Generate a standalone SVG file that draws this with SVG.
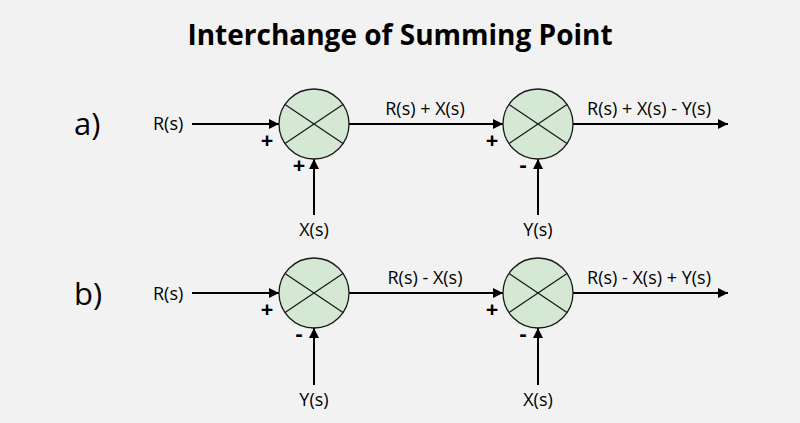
<svg xmlns="http://www.w3.org/2000/svg" width="800" height="423" viewBox="0 0 800 423">
<defs>
<marker id="arr" markerWidth="10" markerHeight="10" refX="10" refY="5" orient="auto" markerUnits="userSpaceOnUse">
<path d="M0,0 L10,5 L0,10 Z" fill="#000"/>
</marker>
<style>
.t{font-family:"Open Sans","Liberation Sans",sans-serif;font-size:18px;fill:#000}
.m{text-anchor:middle}
.s{font-family:"Open Sans","Liberation Sans",sans-serif;font-size:22px;font-weight:bold;fill:#000;text-anchor:middle}
.sum circle{fill:#d5e8d4;stroke:#1a1a1a;stroke-width:1.3}
.sum line{stroke:#1a1a1a;stroke-width:1.3}
.c line{stroke:#000;stroke-width:2;marker-end:url(#arr)}
.lbl{font-family:"Open Sans","Liberation Sans",sans-serif;font-size:31px;fill:#000}
.title{font-family:"Open Sans","Liberation Sans",sans-serif;font-weight:bold;font-size:28px;fill:#000;text-anchor:middle}
</style>
</defs>
<rect width="800" height="423" fill="#f2f2f2"/>
<text class="title" x="400" y="45">Interchange of Summing Point</text>
<text class="lbl" x="74" y="135">a)</text>
<text class="lbl" x="74" y="305">b)</text>

<g id="connectors" class="c">
<line x1="192" y1="124" x2="279" y2="124"/>
<line x1="314" y1="215" x2="314" y2="159"/>
<line x1="349" y1="124" x2="503" y2="124"/>
<line x1="538" y1="215" x2="538" y2="159"/>
<line x1="573" y1="124" x2="728" y2="124"/>
<line x1="192" y1="293" x2="279" y2="293"/>
<line x1="314" y1="385" x2="314" y2="328"/>
<line x1="349" y1="293" x2="503" y2="293"/>
<line x1="538" y1="385" x2="538" y2="328"/>
<line x1="573" y1="293" x2="728" y2="293"/>
</g>

<g id="sum-a1" class="sum">
<circle cx="314" cy="124" r="35"/>
<line x1="285" y1="104.5" x2="343" y2="143.5"/>
<line x1="343" y1="104.5" x2="285" y2="143.5"/>
</g>
<g id="sum-a2" class="sum">
<circle cx="538" cy="124" r="35"/>
<line x1="509" y1="104.5" x2="567" y2="143.5"/>
<line x1="567" y1="104.5" x2="509" y2="143.5"/>
</g>
<g id="sum-b1" class="sum">
<circle cx="314" cy="293" r="35"/>
<line x1="285" y1="273.5" x2="343" y2="312.5"/>
<line x1="343" y1="273.5" x2="285" y2="312.5"/>
</g>
<g id="sum-b2" class="sum">
<circle cx="538" cy="293" r="35"/>
<line x1="509" y1="273.5" x2="567" y2="312.5"/>
<line x1="567" y1="273.5" x2="509" y2="312.5"/>
</g>

<g id="labels-a">
<text class="t" x="153" y="130">R(s)</text>
<text class="t m" x="314" y="236">X(s)</text>
<text class="t m" x="425" y="115">R(s) + X(s)</text>
<text class="t m" x="538" y="236">Y(s)</text>
<text class="t m" x="649" y="115">R(s) + X(s) - Y(s)</text>
<text class="s" x="267" y="148">+</text>
<text class="s" x="299" y="173">+</text>
<text class="s" x="492" y="148">+</text>
<text class="s" x="523" y="172">-</text>
</g>
<g id="labels-b">
<text class="t" x="153" y="300">R(s)</text>
<text class="t m" x="314" y="406">Y(s)</text>
<text class="t m" x="425" y="284">R(s) - X(s)</text>
<text class="t m" x="538" y="406">X(s)</text>
<text class="t m" x="649" y="284">R(s) - X(s) + Y(s)</text>
<text class="s" x="267" y="317">+</text>
<text class="s" x="299" y="341">-</text>
<text class="s" x="492" y="317">+</text>
<text class="s" x="523" y="341">-</text>
</g>
</svg>
